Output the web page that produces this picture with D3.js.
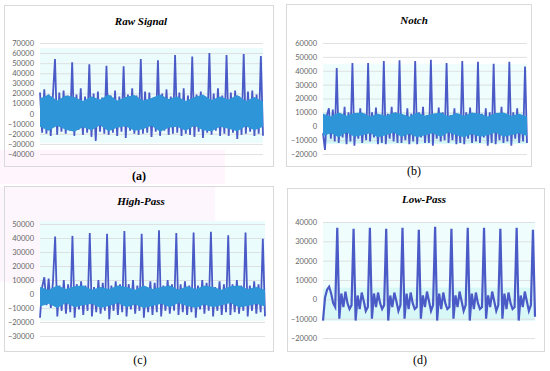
<!DOCTYPE html>
<html>
<head>
<meta charset="utf-8">
<script src="https://cdn.jsdelivr.net/npm/d3@7"></script>
<style>
  html, body { margin: 0; padding: 0; background: #fff; }
  svg { display: block; }
</style>
</head>
<body>
<svg id="chart" width="550" height="371"></svg>
<script>
// ---- data ----
// dark trace, one value per sample (R peaks at index 7, 15, 23, ...)
const rawDark = [21000, -19000, 24000, -20000, 19000, -22000, 17000, 54000,
  -21000, 21000, -18000, 23000, -20000, 18000, -17000, 51000,
  -22000, 19000, -16000, 25000, -21000, 17000, -19000, 49000,
  -23000, 20000, -27000, 22000, -18000, 16000, -20000, 47500,
  -21000, 18000, -19000, 23000, -22000, 17000, -18000, 47000,
  -24000, 19000, -17000, 25000, -20000, 18000, -21000, 54000,
  -20000, 22000, -19000, 21000, -23000, 16000, -18000, 53000,
  -22000, 20000, -17000, 24000, -21000, 17000, -20000, 58000,
  -19000, 21000, -22000, 25000, -20000, 18000, -21000, 56500,
  -23000, 19000, -18000, 22000, -24000, 16000, -19000, 60000,
  -21000, 20000, -17000, 25000, -22000, 18000, -20000, 58000,
  -22000, 21000, -19000, 23000, -25000, 17000, -21000, 59000,
  -20000, 22000, -18000, 23000, -22000, 19000, -20000, 57000, -22000]
const rawLightHi = [15000, 19000, 13000, 18000, 16500, 12500, 17000, 14000, 19000, 13000, 16500, 18500, 13000, 15500,
  19000, 14500, 17000, 12500, 16500, 19000, 13500, 17000, 14000, 18500, 12500, 16500, 12000]
const rawLightLo = [-13000, -17000, -12000, -16000, -18000, -13500, -16500, -11500, -17500, -14000, -12500, -17000, -15500, -12000,
  -18000, -14000, -13000, -17000, -12000, -16500, -17500, -13000, -15000, -17500, -12500, -16500, -13000]

const notchDark = [-5000, -17000, 8000, 13000, -9000, 12000, -11000, 42000,
  -12000, 9000, -8000, 14000, -13000, 10000, -11000, 45500,
  -14000, 8000, -9000, 13000, -12000, 9000, -10000, 45500,
  -11000, 10000, -8000, 13500, -13000, 8000, -12000, 47000,
  -13000, 9000, -9000, 14000, -11000, 10000, -12000, 47500,
  -12000, 8000, -10000, 13000, -13000, 9000, -11000, 47000,
  -13000, 10000, -8000, 14000, -12000, 8000, -12000, 48000,
  -14000, 9000, -9000, 13500, -11000, 10000, -10000, 45500,
  -12000, 8000, -10000, 13000, -13000, 9000, -12000, 47000,
  -13000, 10000, -9000, 13500, -12000, 8000, -11000, 46500,
  -12000, 9000, -8000, 13000, -14000, 10000, -12000, 45000,
  -13000, 8000, -10000, 14000, -12000, 9000, -11000, 46500,
  -14000, 10000, -9000, 13000, -12000, 8000, -11000, 43000, -12000]
const notchLightHi = [9000, 7000, 10000, 7500, 9500, 10000, 7000, 9000, 7500, 10000, 9000, 7000, 10000, 7500,
  9000, 10000, 7000, 9500, 7500, 10000, 9000, 7000, 9500, 10000, 7500, 9000, 7000]
const notchLightLo = [-7000, -5000, -8000, -4500, -7500, -6500, -5000, -8000, -6500, -4500, -7500, -5500, -8000, -6500,
  -5000, -7500, -4500, -6500, -8000, -5500, -7500, -6500, -4500, -7500, -6500, -5000, -7000]

const highDark = [-17000, 5000, 12000, -8000, 11000, -10000, 9000, 41000,
  -16000, 6000, -12000, 10000, -14000, 7000, -13000, 41500,
  -17000, 7000, -11000, 9000, -15000, 6000, -12000, 43500,
  -16000, 5000, -13000, 10000, -14000, 8000, -12000, 43000,
  -18000, 6000, -12000, 9000, -15000, 7000, -13000, 45000,
  -16000, 7000, -11000, 10000, -14000, 6000, -12000, 43000,
  -17000, 5000, -13000, 9000, -15000, 8000, -13000, 45500,
  -16000, 6000, -12000, 10000, -14000, 7000, -12000, 43500,
  -15000, 7000, -13000, 9000, -15000, 6000, -13000, 44000,
  -17000, 6000, -11000, 10000, -14000, 8000, -12000, 44500,
  -16000, 5000, -12000, 9000, -15000, 7000, -13000, 42000,
  -15000, 7000, -13000, 10000, -14000, 6000, -12000, 44000,
  -16000, 6000, -12000, 9000, -14000, 7000, -13000, 39500, -16000]
const highLightHi = [5000, 3000, 6000, 3500, 5500, 6000, 3000, 5000, 3500, 6000, 5000, 3000, 6000, 3500,
  5000, 6000, 3000, 5500, 3500, 6000, 5000, 3000, 5500, 6000, 3500, 5000, 3000]
const highLightLo = [-9000, -7000, -10000, -6500, -9500, -8000, -7000, -10000, -8500, -6500, -9500, -7500, -10000, -8500,
  -7000, -9500, -6500, -8500, -10000, -7500, -9500, -8000, -6500, -9500, -8500, -7000, -9000]

const lowDark = [-11000, 1000, 5000, 6500, 3000, -2000, -4000, 37000,
  -10000, 3000, -4000, 4000, -2000, -5000, -3000, 36500,
  -11000, 2000, -5000, 3500, -1000, -6000, -4000, 37000,
  -10000, 3000, -4000, 3500, -2000, -5000, -3000, 36500,
  -11000, 2000, -4000, 3500, -1000, -6000, -3000, 37000,
  -10000, 3000, -5000, 3500, -2000, -5000, -4000, 36000,
  -10000, 2000, -4000, 4000, -1000, -6000, -3000, 37500,
  -11000, 3000, -5000, 3500, -2000, -5000, -4000, 36500,
  -10000, 2000, -4000, 4000, -1000, -6000, -3000, 37000,
  -11000, 3000, -5000, 3500, -2000, -5000, -4000, 37000,
  -10000, 2000, -4000, 4000, -1000, -6000, -3000, 36500,
  -10000, 3000, -5000, 3500, -2000, -5000, -4000, 37000,
  -11000, 2000, -4000, 4000, -1000, -6000, -3000, 36000, -9000]

const rawTicks = [70000, 60000, 50000, 40000, 30000, 20000, 10000, 0, -10000, -20000, -30000, -40000]
const notchTicks = [60000, 50000, 40000, 30000, 20000, 10000, 0, -10000, -20000]
const highTicks = [50000, 40000, 30000, 20000, 10000, 0, -10000, -20000, -30000]
const lowTicks = [40000, 30000, 20000, 10000, 0, -10000, -20000]

const titles = ['Raw Signal', 'Notch', 'High-Pass', 'Low-Pass']
const letters = ['(a)', '(b)', '(c)', '(d)']

const darkColor = '#4a5ac6'
const lightColor = '#2d95d8'

const svg = d3.select('#chart')

// faint pink scan tint seen in the picture
svg.append('rect').attr('x', 0).attr('y', 150).attr('width', 225).attr('height', 34).attr('fill', '#fef5fd')
svg.append('rect').attr('x', 0).attr('y', 187).attr('width', 215).attr('height', 95).attr('fill', '#fef6fd')

const panels = [
  { box: [4, 5, 273, 166], x: [40, 263], y: [43, 154], ticks: rawTicks, dark: rawDark, hi: rawLightHi, lo: rawLightLo,
    title: titles[0], ty: 25, tx: 141, letter: letters[0], lx: 139, ly: 180, bold: true, shade: [[65000, -29000, '#ecfcfc']] },
  { box: [286, 4, 531, 166], x: [323, 527], y: [43, 154], ticks: notchTicks, dark: notchDark, hi: notchLightHi, lo: notchLightLo,
    title: titles[1], ty: 24, tx: 414, letter: letters[1], lx: 414, ly: 175, bold: false, shade: [[45000, -12500, '#effdfd'], [10000, -12500, '#d2f7f7']] },
  { box: [4, 186, 273, 351], x: [40, 265], y: [224, 336], ticks: highTicks, dark: highDark, hi: highLightHi, lo: highLightLo,
    title: titles[2], ty: 205, tx: 141, letter: letters[2], lx: 140, ly: 364, bold: false, shade: [[52000, -19000, '#eafcfc']] },
  { box: [287, 188, 544, 351], x: [323, 535], y: [222, 338], ticks: lowTicks, dark: lowDark, hi: null, lo: null,
    title: titles[3], ty: 203, tx: 424, letter: letters[3], lx: 420, ly: 364, bold: false, shade: [[40000, -11000, '#effdfd'], [6000, -11000, '#d8f8f8']] }
]

panels.forEach(p => {
  const g = svg.append('g')

  g.append('rect')
    .attr('x', p.box[0] + 0.5).attr('y', p.box[1] + 0.5)
    .attr('width', p.box[2] - p.box[0]).attr('height', p.box[3] - p.box[1])
    .attr('fill', 'none').attr('stroke', '#d9d9d9').attr('stroke-width', 1)

  const yScale = d3.scaleLinear()
    .domain([p.ticks[0], p.ticks[p.ticks.length - 1]])
    .range(p.y)
  const xScale = d3.scaleLinear()
    .domain([0, p.dark.length - 1])
    .range(p.x)

  p.shade.forEach(s => {
    g.append('rect')
      .attr('x', p.x[0]).attr('y', yScale(s[0]))
      .attr('width', p.x[1] - p.x[0]).attr('height', yScale(s[1]) - yScale(s[0]))
      .attr('fill', s[2])
  })

  const yAxis = d3.axisLeft(yScale)
    .tickValues(p.ticks)
    .tickFormat(d3.format('d'))
    .tickSize(-(p.x[1] - p.x[0]))
    .tickPadding(6)
  const ax = g.append('g')
    .attr('transform', 'translate(' + p.x[0] + ',0)')
    .call(yAxis)
  ax.select('.domain').remove()
  ax.selectAll('line').attr('stroke', '#d9d9d9').attr('stroke-width', 0.8)
  ax.selectAll('text')
    .attr('fill', '#666')
    .style('font-family', 'Lato, "Open Sans", sans-serif')
    .style('font-size', '7.5px')

  const line = d3.line()
    .x((d, i) => xScale(i))
    .y(d => yScale(d))

  g.append('path')
    .datum(p.dark)
    .attr('d', line)
    .attr('fill', 'none')
    .attr('stroke', darkColor)
    .attr('stroke-width', p.hi ? 1.8 : 2.2)
    .attr('stroke-linejoin', 'miter')

  if (p.hi) {
    const lx = d3.scaleLinear().domain([0, p.hi.length - 1]).range(p.x)
    const area = d3.area()
      .x((d, i) => lx(i))
      .y0((d, i) => yScale(p.lo[i]))
      .y1(d => yScale(d))
    g.append('path')
      .datum(p.hi)
      .attr('d', area)
      .attr('fill', lightColor)
  }

  g.append('text')
    .attr('x', p.tx).attr('y', p.ty)
    .attr('text-anchor', 'middle')
    .style('font-family', '"Liberation Serif", serif')
    .style('font-weight', 'bold')
    .style('font-style', 'italic')
    .style('font-size', '11px')
    .attr('fill', '#000')
    .text(p.title)

  g.append('text')
    .attr('x', p.lx).attr('y', p.ly)
    .attr('text-anchor', 'middle')
    .style('font-family', '"Liberation Serif", serif')
    .style('font-weight', p.bold ? 'bold' : 'normal')
    .style('font-size', '12px')
    .attr('fill', '#000')
    .text(p.letter)
})
</script>
</body>
</html>
